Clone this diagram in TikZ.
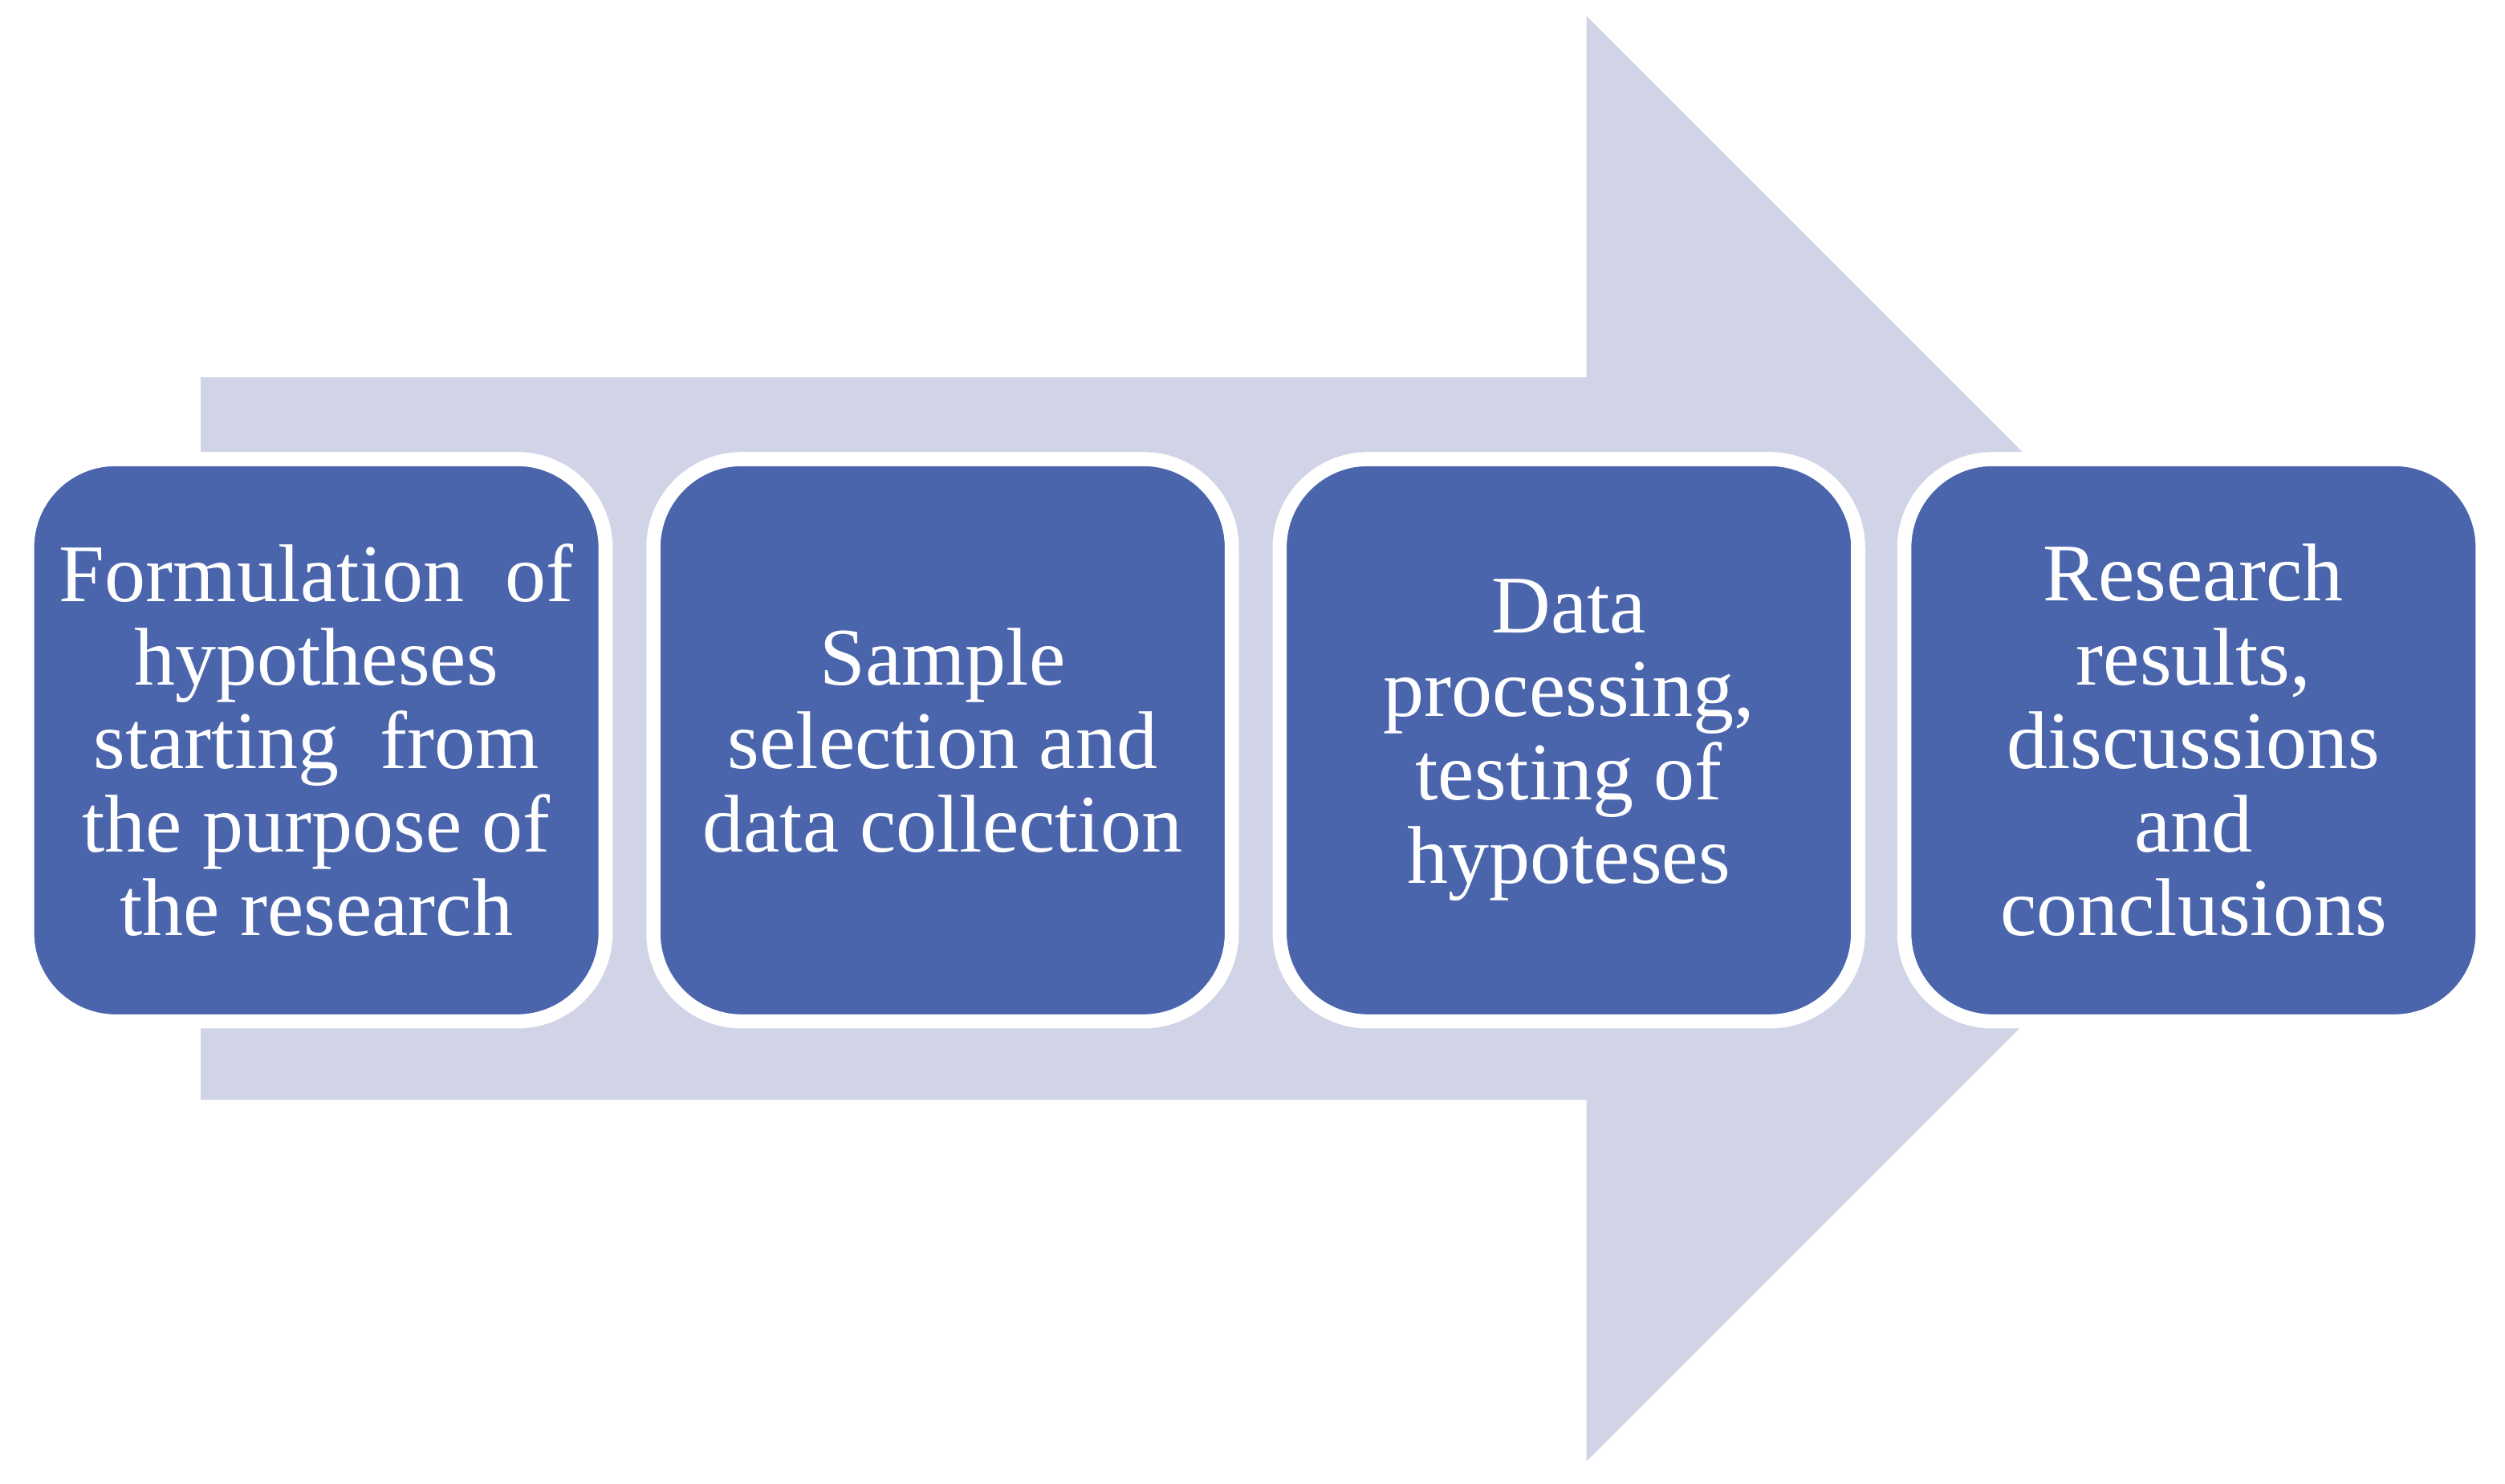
\documentclass[tikz,border=0pt]{standalone}
\usepackage{fontspec}
\setmainfont{Liberation Serif}
\usetikzlibrary{positioning}
\definecolor{stepblue}{HTML}{4A65AC}
\definecolor{arrowgray}{HTML}{D0D4E6}
\tikzset{
    % Define style for stage boxes
    stage/.style={
           rectangle,
           rounded corners=0.55cm,
           fill=stepblue,
           draw=white, line width=2.5pt,
           text=white,
           minimum width=3.6cm,
           minimum height=3.5cm,
           align=center,
           font=\fontsize{14.5}{14.8}\selectfont}
}
\begin{document}
\begin{tikzpicture}[x=0.01cm, y=-0.01cm]
 \useasboundingbox (0,0) rectangle (1560,924);
 % background arrow
    \fill[arrowgray] (125,235) -- (988,235) -- (988,10) -- (1438,460)
        -- (988,910) -- (988,685) -- (125,685) -- cycle;
 % nodes
    \node[stage] (hyp) at (197,461) {Formulation\ \ of\\hypotheses\\starting\ \ from\\the purpose\ of\\the research};
    \node[stage] (sample) at (587,461) {Sample\\selection\ and\\data\ collection};
    \node[stage] (proc) at (977,461) {Data\\processing,\\testing\ of\\hypoteses};
    \node[stage] (res) at (1366,461) {Research\\results,\\discussions\\and\\conclusions};
\end{tikzpicture}
\end{document}
